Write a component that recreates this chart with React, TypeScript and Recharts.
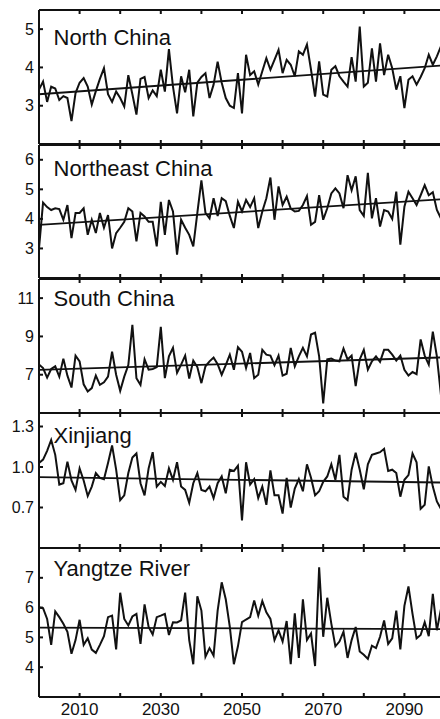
import React from "react";
import { LineChart, Line, XAxis, YAxis } from "recharts";

// yearly values 2000–2099, one array per region
const firstYear = 2000;
const tickYears = [2000, 2010, 2020, 2030, 2040, 2050, 2060, 2070, 2080, 2090];
const labelYears = [2010, 2030, 2050, 2070, 2090];
const trendYears = [2000, 2099];

const northChina = [
  3.42, 3.63, 3.1, 3.5, 3.45, 3.15, 3.25, 3.2, 2.6, 3.33, 3.6, 3.72, 3.5, 3.03, 3.38, 3.7, 3.98, 3.3, 3.1, 3.37,
  3.2, 2.98, 3.8, 3.3, 2.77, 3.7, 3.75, 3.2, 3.4, 3.25, 3.94, 3.37, 4.48, 3.5, 2.8, 3.77, 3.35, 3.94, 2.72, 3.6,
  3.75, 3.85, 3.2, 3.55, 4.15, 3.6, 3.2, 3.0, 2.94, 3.85, 2.8, 4.33, 3.8, 3.9, 3.55, 3.9, 4.24, 3.94, 4.2, 4.46,
  3.85, 4.2, 4.07, 3.77, 4.42, 4.33, 4.6, 3.94, 3.24, 4.16, 3.29, 3.24, 3.94, 4.03, 3.77, 3.63, 3.5, 4.27, 3.63, 5.07,
  3.5, 3.6, 4.5, 3.63, 4.63, 3.8, 4.33, 3.98, 3.42, 3.77, 2.94, 3.68, 3.77, 3.55, 3.75, 3.98, 4.33, 4.07, 4.29, 4.55,
];
const northeastChina = [
  3.0, 4.55, 4.4, 4.3, 4.36, 4.33, 3.97, 4.47, 3.35, 4.2, 4.2, 4.36, 3.46, 3.97, 3.52, 4.2, 3.7, 4.13, 3.0, 3.52,
  3.7, 3.9, 4.36, 4.25, 3.24, 4.2, 4.08, 3.9, 3.9, 3.07, 4.58, 3.46, 4.64, 4.25, 2.79, 3.97, 3.7, 3.46, 3.07, 4.2,
  5.3, 4.2, 4.02, 4.7, 4.1, 4.7, 4.6, 4.1, 3.69, 4.58, 4.25, 4.64, 4.4, 4.7, 3.69, 4.25, 4.7, 5.4, 3.97, 5.1,
  4.47, 4.75, 4.35, 4.25, 4.27, 4.47, 4.77, 3.8, 3.9, 4.8, 3.97, 4.36, 4.86, 5.03, 4.86, 4.36, 5.48, 4.97, 5.44, 4.3,
  4.1, 5.56, 4.02, 4.7, 3.74, 4.3, 4.25, 4.0, 4.92, 3.13, 4.41, 4.92, 4.7, 4.47, 4.8, 5.14, 4.8, 4.9, 4.3, 4.02,
];
const southChina = [
  7.53, 7.35, 6.85, 7.3, 7.44, 6.9, 7.84, 6.95, 6.33, 8.0, 7.7, 6.5, 6.12, 6.3, 6.96, 6.47, 6.6, 6.9, 8.2, 7.0,
  6.16, 6.9, 7.5, 9.6, 6.82, 6.47, 7.8, 7.26, 7.3, 7.4, 9.5, 6.82, 7.96, 8.4, 7.1, 7.53, 8.0, 6.8, 7.74, 7.4,
  6.56, 7.44, 7.7, 7.9, 7.55, 7.0, 7.5, 8.05, 7.26, 8.44, 8.2, 7.35, 8.14, 6.82, 7.0, 8.3, 8.05, 8.0, 7.5, 8.0,
  6.95, 7.05, 8.4, 7.44, 7.96, 8.4, 7.96, 9.1, 9.2, 7.96, 5.5, 7.8, 7.84, 7.74, 7.7, 8.37, 7.8, 8.0, 6.4, 7.8,
  8.3, 7.26, 7.7, 7.96, 7.67, 8.3, 8.3, 8.05, 7.74, 8.0, 7.26, 6.96, 7.14, 7.03, 8.84, 8.0, 7.53, 9.25, 7.96, 5.95,
];
const xinjiang = [
  1.03, 1.055, 1.12, 1.2, 1.09, 0.87, 0.88, 1.04, 0.9, 0.83, 0.99, 0.9, 0.785, 0.855, 0.955, 0.92, 0.91, 1.03, 1.16, 0.98,
  0.755, 0.79, 0.955, 1.07, 1.1, 0.88, 0.79, 0.99, 1.11, 0.855, 0.89, 0.86, 0.99, 0.905, 1.035, 0.855, 0.83, 0.735, 0.88, 0.955,
  0.83, 0.82, 0.855, 0.77, 0.88, 0.93, 0.805, 0.98, 0.97, 1.01, 0.605, 1.035, 0.87, 0.91, 0.77, 0.855, 0.72, 0.975, 0.79, 0.79,
  0.655, 0.92, 0.7, 0.84, 0.91, 0.82, 1.02, 0.92, 0.79, 0.82, 0.89, 0.93, 1.02, 0.905, 1.09, 0.78, 0.755, 0.98, 1.105, 0.98,
  0.835, 1.02, 1.09, 1.1, 1.11, 1.135, 0.97, 0.98, 0.955, 0.78, 0.905, 0.94, 1.1, 1.035, 0.69, 0.72, 1.005, 0.855, 0.745, 0.69,
];
const yangtzeRiver = [
  6.0, 5.98, 5.62, 4.75, 5.87, 5.68, 5.46, 5.19, 4.45, 4.91, 5.59, 4.75, 4.97, 4.59, 4.48, 4.75, 5.04, 5.68, 5.73, 4.6,
  6.5, 5.62, 5.4, 5.7, 5.79, 4.78, 6.11, 5.35, 5.1, 5.68, 5.73, 5.79, 5.08, 5.51, 5.5, 5.57, 6.5, 4.91, 4.1, 6.38,
  5.9, 4.35, 4.64, 4.39, 5.9, 6.85, 6.28, 5.35, 4.1, 4.7, 5.51, 5.6, 5.68, 6.24, 5.73, 6.22, 5.84, 5.62, 4.91, 5.24,
  4.86, 5.55, 4.1, 5.81, 4.31, 6.28, 4.91, 5.13, 4.04, 7.35, 5.02, 6.33, 5.46, 4.7, 4.86, 5.19, 4.31, 4.91, 5.35, 4.53,
  4.42, 4.28, 4.72, 4.64, 5.02, 5.57, 4.78, 4.97, 5.9, 4.6, 6.06, 6.71, 5.79, 4.97, 5.08, 5.51, 5.04, 6.46, 5.24, 5.95,
];

// linear trend, value at first and last year
const northChinaTrend = [3.3, 4.05];
const northeastChinaTrend = [3.8, 4.66];
const southChinaTrend = [7.25, 7.9];
const xinjiangTrend = [0.925, 0.885];
const yangtzeRiverTrend = [5.33, 5.28];

const panels = [
  { name: "North China", values: northChina, trend: northChinaTrend, domain: [2, 5.5], ticks: [3, 4, 5], digits: 0 },
  { name: "Northeast China", values: northeastChina, trend: northeastChinaTrend, domain: [2, 6.5], ticks: [3, 4, 5, 6], digits: 0 },
  { name: "South China", values: southChina, trend: southChinaTrend, domain: [5, 12], ticks: [7, 9, 11], digits: 0 },
  { name: "Xinjiang", values: xinjiang, trend: xinjiangTrend, domain: [0.4, 1.4], ticks: [0.7, 1.0, 1.3], digits: 1 },
  { name: "Yangtze River", values: yangtzeRiver, trend: yangtzeRiverTrend, domain: [3, 8], ticks: [4, 5, 6, 7], digits: 0 },
];

// layout (pixels)
const plotTops = [10, 145, 279, 413, 548];
const plotHeights = [134, 133, 134, 135, 149];
const titleTops = [16.5, 12.5, 9, 11.5, 10];
const chartWidth = 446;
const ink = "#111";
const font = '"Liberation Sans", Arial, Helvetica, sans-serif';
const tickLen = 4;

function LeftTick(props: any) {
  const { x, y, payload, digits } = props;
  return (
    <g>
      <line x1={x} x2={x + tickLen} y1={y} y2={y} stroke={ink} strokeWidth={2} />
      <text x={x - 5} y={y} dy="0.35em" textAnchor="end" fontSize={16} fontFamily={font} fill={ink}>
        {Number(payload.value).toFixed(digits)}
      </text>
    </g>
  );
}

function RightTick(props: any) {
  const { x, y } = props;
  return <line x1={x - tickLen} x2={x} y1={y} y2={y} stroke={ink} strokeWidth={2} />;
}

function TopTick(props: any) {
  const { x, y } = props;
  return <line x1={x} x2={x} y1={y} y2={y + tickLen} stroke={ink} strokeWidth={2} />;
}

function BottomTick(props: any) {
  const { x, y, payload, showLabel } = props;
  return (
    <g>
      <line x1={x} x2={x} y1={y} y2={y - tickLen} stroke={ink} strokeWidth={2} />
      {showLabel && labelYears.includes(payload.value) && (
        <text x={x} y={y + 5.7} dy="0.71em" textAnchor="middle" fontSize={17} fontFamily={font} fill={ink}>
          {payload.value}
        </text>
      )}
    </g>
  );
}

function Panel({ index }: { index: number }) {
  const p = panels[index];
  const last = index === panels.length - 1;
  const rows = p.values.map((v, i) => ({ year: firstYear + i, value: v }));
  const trendRows = trendYears.map((yr, i) => ({ year: yr, value: p.trend[i] }));
  const bottomH = last ? 22 : 1;
  const marginBottom = last ? 0 : 5;
  const chartHeight = 6 + plotHeights[index] + bottomH + marginBottom;
  const axisLine = { stroke: ink, strokeWidth: 2 };

  return (
    <div style={{ position: "absolute", left: 0, top: plotTops[index] - 6, width: chartWidth, height: chartHeight }}>
      <LineChart
        width={chartWidth}
        height={chartHeight}
        data={rows}
        margin={{ top: 5, right: 0, bottom: marginBottom, left: 0 }}
      >
        <XAxis
          xAxisId="b"
          dataKey="year"
          type="number"
          domain={[2000, 2100]}
          ticks={tickYears}
          interval={0}
          height={bottomH}
          axisLine={axisLine}
          tickLine={false}
          tickSize={0}
          tickMargin={0}
          tick={(t: any) => <BottomTick {...t} showLabel={last} />}
        />
        <XAxis
          xAxisId="t"
          orientation="top"
          dataKey="year"
          type="number"
          domain={[2000, 2100]}
          ticks={tickYears}
          interval={0}
          height={1}
          axisLine={axisLine}
          tickLine={false}
          tickSize={0}
          tickMargin={0}
          tick={(t: any) => <TopTick {...t} />}
        />
        <YAxis
          yAxisId="l"
          type="number"
          domain={p.domain}
          ticks={p.ticks}
          interval={0}
          width={39}
          axisLine={axisLine}
          tickLine={false}
          tickSize={0}
          tickMargin={0}
          tick={(t: any) => <LeftTick {...t} digits={p.digits} />}
        />
        <YAxis
          yAxisId="r"
          orientation="right"
          type="number"
          domain={p.domain}
          ticks={p.ticks}
          interval={0}
          width={1}
          axisLine={axisLine}
          tickLine={false}
          tickSize={0}
          tickMargin={0}
          tick={(t: any) => <RightTick {...t} />}
        />
        <Line
          xAxisId="b"
          yAxisId="l"
          dataKey="value"
          stroke={ink}
          strokeWidth={2}
          dot={false}
          type="linear"
          isAnimationActive={false}
        />
        <Line
          xAxisId="b"
          yAxisId="l"
          data={trendRows}
          dataKey="value"
          stroke={ink}
          strokeWidth={1.8}
          dot={false}
          type="linear"
          isAnimationActive={false}
        />
      </LineChart>
      <div
        style={{
          position: "absolute",
          left: 53.5,
          top: 6 + titleTops[index],
          fontFamily: font,
          fontSize: 22,
          lineHeight: 1,
          color: ink,
          whiteSpace: "nowrap",
        }}
      >
        {p.name}
      </div>
    </div>
  );
}

export default function App() {
  return (
    <div
      style={{
        position: "absolute",
        left: 0,
        top: 0,
        width: 440,
        height: 719,
        overflow: "hidden",
        background: "#fff",
      }}
    >
      {panels.map((p, i) => (
        <Panel key={p.name} index={i} />
      ))}
    </div>
  );
}
